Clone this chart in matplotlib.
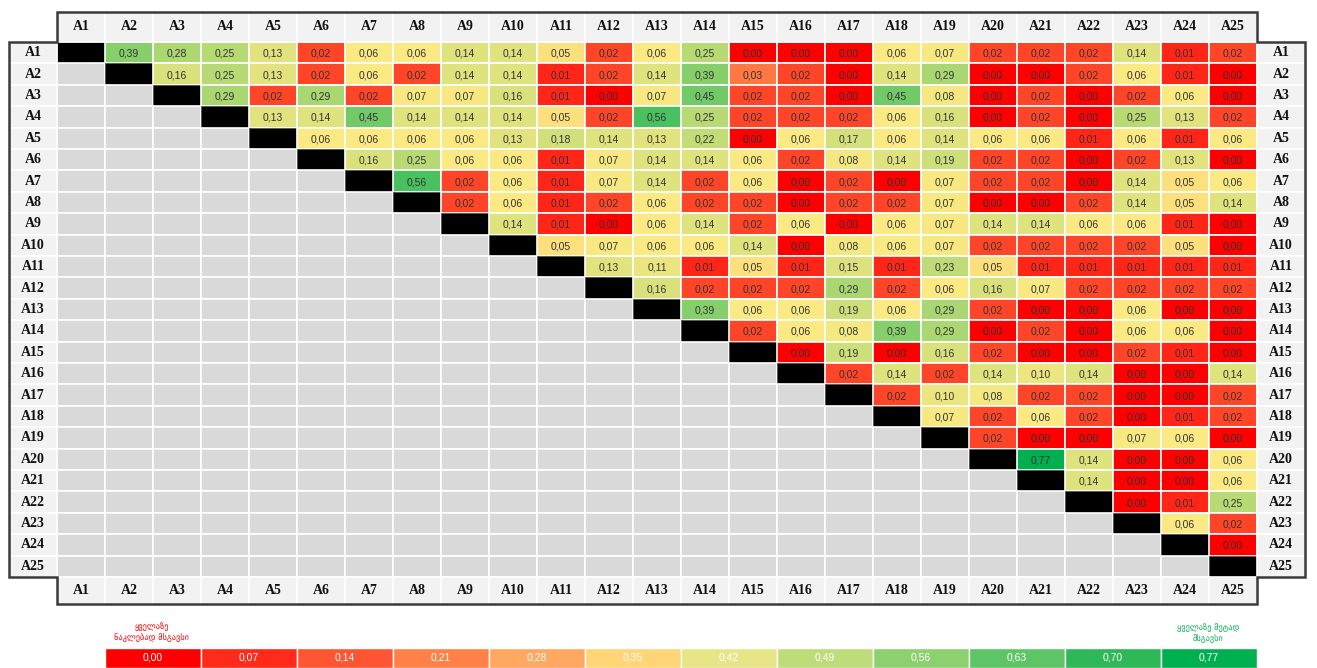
import matplotlib.pyplot as plt
import numpy as np
from matplotlib.colors import LinearSegmentedColormap
from matplotlib.patches import Rectangle, Polygon

labels = [f"A{i}" for i in range(1, 26)]

# upper triangle, row i holds values for columns i+1 .. 25
rows = [
    [0.39, 0.28, 0.25, 0.13, 0.02, 0.06, 0.06, 0.14, 0.14, 0.05, 0.02, 0.06, 0.25, 0.00, 0.00, 0.00, 0.06, 0.07, 0.02, 0.02, 0.02, 0.14, 0.01, 0.02],
    [0.16, 0.25, 0.13, 0.02, 0.06, 0.02, 0.14, 0.14, 0.01, 0.02, 0.14, 0.39, 0.03, 0.02, 0.00, 0.14, 0.29, 0.00, 0.00, 0.02, 0.06, 0.01, 0.00],
    [0.29, 0.02, 0.29, 0.02, 0.07, 0.07, 0.16, 0.01, 0.00, 0.07, 0.45, 0.02, 0.02, 0.00, 0.45, 0.08, 0.00, 0.02, 0.00, 0.02, 0.06, 0.00],
    [0.13, 0.14, 0.45, 0.14, 0.14, 0.14, 0.05, 0.02, 0.56, 0.25, 0.02, 0.02, 0.02, 0.06, 0.16, 0.00, 0.02, 0.00, 0.25, 0.13, 0.02],
    [0.06, 0.06, 0.06, 0.06, 0.13, 0.18, 0.14, 0.13, 0.22, 0.00, 0.06, 0.17, 0.06, 0.14, 0.06, 0.06, 0.01, 0.06, 0.01, 0.06],
    [0.16, 0.25, 0.06, 0.06, 0.01, 0.07, 0.14, 0.14, 0.06, 0.02, 0.08, 0.14, 0.19, 0.02, 0.02, 0.00, 0.02, 0.13, 0.00],
    [0.56, 0.02, 0.06, 0.01, 0.07, 0.14, 0.02, 0.06, 0.00, 0.02, 0.00, 0.07, 0.02, 0.02, 0.00, 0.14, 0.05, 0.06],
    [0.02, 0.06, 0.01, 0.02, 0.06, 0.02, 0.02, 0.00, 0.02, 0.02, 0.07, 0.00, 0.00, 0.02, 0.14, 0.05, 0.14],
    [0.14, 0.01, 0.00, 0.06, 0.14, 0.02, 0.06, 0.00, 0.06, 0.07, 0.14, 0.14, 0.06, 0.06, 0.01, 0.00],
    [0.05, 0.07, 0.06, 0.06, 0.14, 0.00, 0.08, 0.06, 0.07, 0.02, 0.02, 0.02, 0.02, 0.05, 0.00],
    [0.13, 0.11, 0.01, 0.05, 0.01, 0.15, 0.01, 0.23, 0.05, 0.01, 0.01, 0.01, 0.01, 0.01],
    [0.16, 0.02, 0.02, 0.02, 0.29, 0.02, 0.06, 0.16, 0.07, 0.02, 0.02, 0.02, 0.02],
    [0.39, 0.06, 0.06, 0.19, 0.06, 0.29, 0.02, 0.00, 0.00, 0.06, 0.00, 0.00],
    [0.02, 0.06, 0.08, 0.39, 0.29, 0.00, 0.02, 0.00, 0.06, 0.06, 0.00],
    [0.00, 0.19, 0.00, 0.16, 0.02, 0.00, 0.00, 0.02, 0.01, 0.00],
    [0.02, 0.14, 0.02, 0.14, 0.10, 0.14, 0.00, 0.00, 0.14],
    [0.02, 0.10, 0.08, 0.02, 0.02, 0.00, 0.00, 0.02],
    [0.07, 0.02, 0.06, 0.02, 0.00, 0.01, 0.02],
    [0.02, 0.00, 0.00, 0.07, 0.06, 0.00],
    [0.77, 0.14, 0.00, 0.00, 0.06],
    [0.14, 0.00, 0.00, 0.06],
    [0.00, 0.01, 0.25],
    [0.06, 0.02],
    [0.00],
]

legend_values = [0.00, 0.07, 0.14, 0.21, 0.28, 0.35, 0.42, 0.49, 0.56, 0.63, 0.70, 0.77]
legend_colors = ["#FF0000", "#FF2A1A", "#FF5533", "#FF8147", "#FFA862", "#FFD577",
                 "#E8E588", "#BEDC7A", "#8CD070", "#5DC566", "#2EB858", "#00B050"]
low_label = "ყველაზე\nნაკლებად მსგავსი"
high_label = "ყველაზე მეტად\nმსგავსი"

# excel-like 3 colour scale, yellow around the median
vmax = 0.77
stops = [(0.0, "#FF0000"), (0.01, "#FF2A1A"), (0.02, "#FF4B2B"), (0.03, "#FF8A4A"),
         (0.05, "#FCE883"), (0.06, "#FBE983"), (0.77, "#00B050")]
cmap = LinearSegmentedColormap.from_list("scale", [(v / vmax, c) for v, c in stops])

fig = plt.figure(figsize=(13.17, 6.68), dpi=100)
W, H = 1317, 668
ax = fig.add_axes([57 / W, (H - 577) / H, 1200 / W, 535 / H])
ax.set_xlim(0, 25)
ax.set_ylim(25, 0)
ax.axis("off")

n = len(labels)
hh_top = 30 / 21.4
hh_bot = 27 / 21.4
grid = "white"
head_bg = "#F2F2F2"
hfont = dict(family="Liberation Serif", fontweight="bold", fontsize=10, color="#111111")

for i in range(n):
    for j in range(n):
        if i == j:
            fc = "black"
        elif j < i:
            fc = "#D9D9D9"
        else:
            v = rows[i][j - i - 1]
            fc = cmap(v / vmax)
        ax.add_patch(Rectangle((j, i), 1, 1, facecolor=fc, edgecolor=grid if i != j else "#555555",
                               lw=1.2 if i != j else 0.6))
        if j > i:
            v = rows[i][j - i - 1]
            ax.text(j + 0.5, i + 0.55, f"{v:.2f}".replace(".", ","), ha="center", va="center",
                    fontsize=7.5, family="Liberation Sans", color="#333333")

# header rows and label columns
for k, lab in enumerate(labels):
    ax.add_patch(Rectangle((k, -hh_top), 1, hh_top, facecolor=head_bg, edgecolor=grid, lw=1.2, clip_on=False))
    ax.text(k + 0.5, -hh_top / 2, lab, ha="center", va="center", **hfont)
    ax.add_patch(Rectangle((k, 25), 1, hh_bot, facecolor=head_bg, edgecolor=grid, lw=1.2, clip_on=False))
    ax.text(k + 0.5, 25 + hh_bot / 2, lab, ha="center", va="center", **hfont)
    ax.add_patch(Rectangle((-1, k), 1, 1, facecolor=head_bg, edgecolor=grid, lw=1.2, clip_on=False))
    ax.text(-0.5, k + 0.5, lab, ha="center", va="center", **hfont)
    ax.add_patch(Rectangle((25, k), 1, 1, facecolor=head_bg, edgecolor=grid, lw=1.2, clip_on=False))
    ax.text(25.5, k + 0.5, lab, ha="center", va="center", **hfont)

outline = [(0, -hh_top), (25, -hh_top), (25, 0), (26, 0), (26, 25), (25, 25), (25, 25 + hh_bot),
           (0, 25 + hh_bot), (0, 25), (-1, 25), (-1, 0), (0, 0)]
ax.add_patch(Polygon(outline, closed=True, fill=False, edgecolor="#3A3A3A", lw=1.8, clip_on=False))

# colour legend
lax = fig.add_axes([105 / W, 0, 1152 / W, 20 / H])
lax.set_xlim(0, len(legend_values))
lax.set_ylim(0, 1)
lax.axis("off")
lax.bar(np.arange(len(legend_values)) + 0.5, 1, width=1, color=legend_colors, edgecolor="white", lw=1)
for k, v in enumerate(legend_values):
    lax.text(k + 0.5, 0.5, f"{v:.2f}".replace(".", ","), ha="center", va="center",
             fontsize=7.5, family="Liberation Sans", color="white")

fig.text(152 / W, 1 - 632 / H, low_label, ha="center", va="center", fontsize=6,
         color="#FF0000", family="DejaVu Sans", linespacing=1.3)
fig.text(1208 / W, 1 - 633 / H, high_label, ha="center", va="center", fontsize=6,
         color="#00B050", family="DejaVu Sans", linespacing=1.3)

fig.savefig("out.png", dpi=100)
